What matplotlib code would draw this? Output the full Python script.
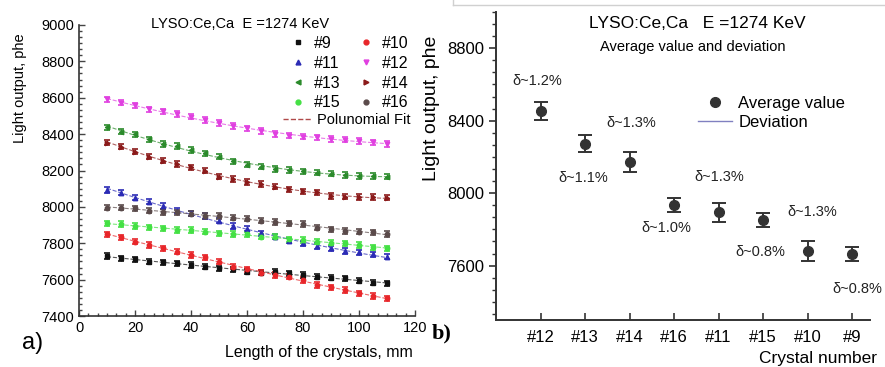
import numpy as np
import matplotlib
matplotlib.use('Agg')
import matplotlib.pyplot as plt
from matplotlib.ticker import AutoMinorLocator, MultipleLocator
from matplotlib.lines import Line2D

plt.rcParams['font.family'] = ['Liberation Sans', 'DejaVu Sans']

# ---- panel a) data: light output vs crystal length ----
length_mm = [10, 15, 20, 25, 30, 35, 40, 45, 50, 55, 60, 65, 70, 75, 80, 85, 90, 95, 100, 105, 110]

lo_9 = [7730, 7717, 7712, 7699, 7695, 7690, 7680, 7671, 7662, 7657, 7644,
        7638, 7644, 7635, 7625, 7616, 7611, 7607, 7594, 7583, 7580]
lo_10 = [7849, 7833, 7809, 7790, 7772, 7754, 7735, 7723, 7699, 7671, 7657,
         7638, 7625, 7616, 7598, 7570, 7558, 7543, 7525, 7510, 7497]
lo_11 = [8093, 8078, 8051, 8029, 8005, 7979, 7964, 7950, 7924, 7895, 7880,
         7855, 7836, 7814, 7800, 7785, 7772, 7757, 7750, 7739, 7726]
lo_12 = [8591, 8573, 8558, 8536, 8525, 8511, 8496, 8478, 8461, 8445, 8432,
         8417, 8401, 8392, 8386, 8382, 8373, 8370, 8362, 8355, 8346]
lo_13 = [8437, 8414, 8399, 8371, 8346, 8335, 8313, 8294, 8276, 8250, 8232,
         8221, 8208, 8203, 8195, 8188, 8183, 8175, 8170, 8170, 8166]
lo_14 = [8353, 8331, 8304, 8276, 8254, 8236, 8217, 8199, 8166, 8153, 8137,
         8126, 8111, 8096, 8085, 8080, 8060, 8056, 8054, 8054, 8051]
lo_15 = [7909, 7906, 7895, 7888, 7882, 7873, 7873, 7864, 7855, 7851, 7849,
         7836, 7836, 7822, 7818, 7809, 7803, 7800, 7790, 7778, 7772]
lo_16 = [7996, 7996, 7992, 7979, 7972, 7970, 7963, 7950, 7950, 7941, 7935,
         7924, 7917, 7910, 7906, 7886, 7877, 7868, 7864, 7860, 7851]
point_err = 15

series_names = ['#9', '#10', '#11', '#12', '#13', '#14', '#15', '#16']
series_vals = [lo_9, lo_10, lo_11, lo_12, lo_13, lo_14, lo_15, lo_16]

# ---- panel b) data: average value and deviation ----
crystals = ['#12', '#13', '#14', '#16', '#11', '#15', '#10', '#9']
avg_value = [8455, 8274, 8171, 7934, 7894, 7851, 7679, 7664]
avg_err = [50, 46, 54, 40, 52, 38, 55, 37]
deviation = ['δ~1.2%', 'δ~1.1%', 'δ~1.3%', 'δ~1.0%', 'δ~1.3%', 'δ~0.8%', 'δ~1.3%', 'δ~0.8%']

colors = ['#111111', '#e8262a', '#2b2bb5', '#e040e0', '#2a8a2a', '#8b1a1a', '#44e044', '#5a4a4a']
markers = ['s', 'o', '^', 'v', '<', '>', 'o', 'o']

fig = plt.figure(figsize=(8.85, 3.67), dpi=100)

# ================= panel a =================
ax1 = fig.add_axes([79/885, 1-316/367, 336/885, 291/367])
x = np.array(length_mm)
handles = []
for name, vals, c, m in zip(series_names, series_vals, colors, markers):
    y = np.array(vals)
    coef = np.polyfit(x, y, 2)
    xf = np.linspace(x[0], x[-1], 200)
    ax1.plot(xf, np.polyval(coef, xf), '--', color=c, lw=0.8, alpha=0.7)
    ax1.errorbar(x, y, yerr=point_err, fmt=m, color=c, ms=3.2, elinewidth=1.0,
                 capsize=2.2, capthick=1.2)
    handles.append(Line2D([], [], ls='none', marker=m, color=c, ms=3.5, label=name))

ax1.set_xlim(0, 120)
ax1.set_ylim(7400, 9000)
ax1.xaxis.set_major_locator(MultipleLocator(20))
ax1.yaxis.set_major_locator(MultipleLocator(200))
ax1.xaxis.set_minor_locator(AutoMinorLocator(6))
ax1.yaxis.set_minor_locator(AutoMinorLocator(6))
ax1.tick_params(which='both', direction='in', labelsize=10.5, width=1, color='#444444')
ax1.tick_params(which='major', length=4)
ax1.tick_params(which='minor', length=2)
for s in ['top', 'right']:
    ax1.spines[s].set_visible(False)
for s in ['left', 'bottom']:
    ax1.spines[s].set_linewidth(1.2)
    ax1.spines[s].set_color('#333333')

# legend in rows: #9 #10 / #11 #12 / ... (ncol fills column-wise)
leg_order = [0, 2, 4, 6, 1, 3, 5, 7]
leg1 = ax1.legend(handles=[handles[i] for i in leg_order], ncol=2, loc='upper left',
                  bbox_to_anchor=((290 - 79) / 336, (316 - 36) / 291),
                  frameon=False, fontsize=11.5, handlelength=1.0, handletextpad=0.5,
                  columnspacing=1.1, labelspacing=0.3, borderpad=0, borderaxespad=0)
ax1.add_artist(leg1)
fit_handle = Line2D([], [], ls='--', color='#b04a4a', lw=1.0, label='Polunomial Fit')
ax1.legend(handles=[fit_handle], loc='upper left',
           bbox_to_anchor=((283 - 79) / 336, (316 - 113) / 291),
           frameon=False, fontsize=10.5, handlelength=2.0, handletextpad=0.3,
           borderpad=0, borderaxespad=0)

fig.text(240/885, 1-24/367, 'LYSO:Ce,Ca  E =1274 KeV', ha='center', va='center', fontsize=10.5)
fig.text(20/885, 1-88/367, 'Light output, phe', rotation=90, ha='center', va='center', fontsize=10.5)
fig.text(413/885, 1-352/367, 'Length of the crystals, mm', ha='right', va='center', fontsize=11.5)
fig.text(33/885, 1-343/367, 'a)', ha='center', va='center', fontsize=17)

# ================= panel b =================
ax2 = fig.add_axes([496/885, 1-320/367, 374/885, 308/367])
pos = np.arange(1, len(crystals) + 1)
ax2.errorbar(pos, avg_value, yerr=avg_err, fmt='o', color='#333333', ms=7,
             elinewidth=1.4, capsize=5, capthick=1.4)

label_offsets = [(-3, 30), (-2, -34), (2, 39), (-8, -23), (1, 35), (-3, -32), (5, 39), (5, -35)]
for xi, yi, txt, off in zip(pos, avg_value, deviation, label_offsets):
    ax2.annotate(txt, (xi, yi), xytext=off, textcoords='offset pixels',
                 ha='center', va='center', fontsize=10.5, color='#222222')

ax2.set_xlim(0, 8.4)
ax2.set_ylim(7300, 9000)
ax2.set_xticks(pos)
ax2.set_xticklabels(crystals)
ax2.yaxis.set_major_locator(MultipleLocator(400))
ax2.yaxis.set_minor_locator(AutoMinorLocator(6))
ax2.tick_params(axis='y', which='both', direction='out', labelsize=12, color='#333333')
ax2.tick_params(axis='y', which='major', length=5, width=1.2)
ax2.tick_params(axis='y', which='minor', length=3, width=1.0)
ax2.tick_params(axis='x', direction='in', length=5, width=1.2, labelsize=12, pad=7,
                color='#333333')
for s in ['top', 'right']:
    ax2.spines[s].set_visible(False)
for s in ['left', 'bottom']:
    ax2.spines[s].set_linewidth(1.4)
    ax2.spines[s].set_color('#333333')

leg_h = [Line2D([], [], ls='none', marker='o', color='#333333', ms=7, label='Average value'),
         Line2D([], [], color='#8080c0', lw=1.0, label='Deviation')]
ax2.legend(handles=leg_h, loc='upper left', bbox_to_anchor=((690 - 496) / 374, 1 - (88 - 12) / 308),
           frameon=False, fontsize=12, handlelength=2.0, handletextpad=0.4,
           labelspacing=0.2, borderpad=0)

fig.text(697/885, 1-24/367, 'LYSO:Ce,Ca   E =1274 KeV', ha='center', va='center', fontsize=12.5)
fig.text(693/885, 1-47/367, 'Average value and deviation', ha='center', va='center', fontsize=10.5)
fig.text(432/885, 1-108/367, 'Light output, phe', rotation=90, ha='center', va='center', fontsize=14)
fig.text(877/885, 1-358/367, 'Crystal number', ha='right', va='center', fontsize=12.5)
fig.text(442/885, 1-333/367, 'b)', ha='center', va='center', fontsize=16,
         family='Liberation Serif', weight='bold')

# light frame line at the top of panel b
fig.add_artist(Line2D([453/885, 1], [1-5/367, 1-5/367], color='#d0d0d0', lw=1))
fig.add_artist(Line2D([453/885, 453/885], [1-5/367, 1], color='#d0d0d0', lw=1))

fig.savefig('out.png', dpi=100)
